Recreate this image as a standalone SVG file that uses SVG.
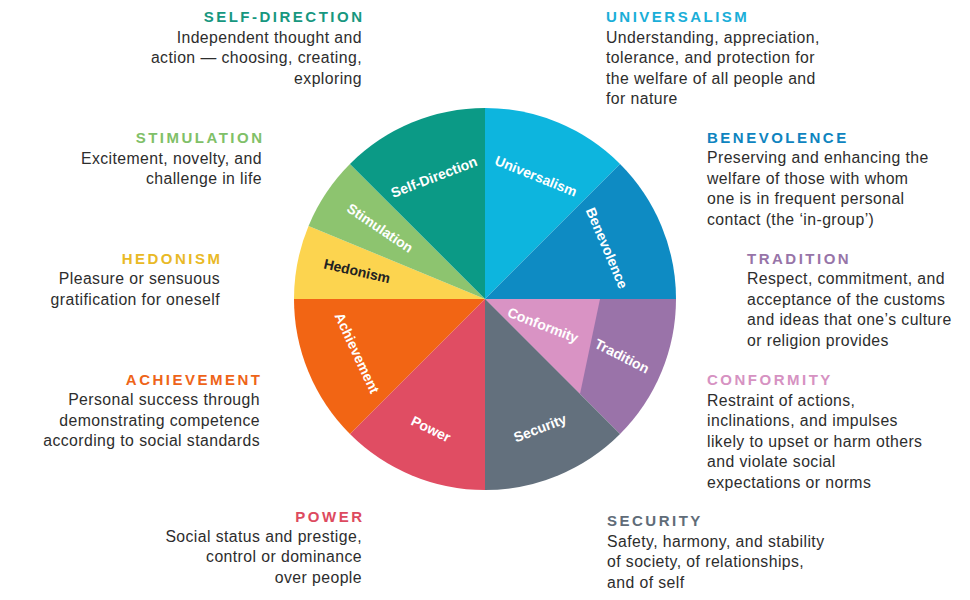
<svg xmlns="http://www.w3.org/2000/svg" width="970" height="600" viewBox="0 0 970 600">
<style>
.h{font-family:"Liberation Sans",Arial,sans-serif;font-weight:bold;font-size:15px;letter-spacing:2.5px}
.b{font-family:"Liberation Sans",Arial,sans-serif;font-size:15.8px;letter-spacing:0.42px;fill:#2d2d2d}
.w{font-family:"Liberation Sans",Arial,sans-serif;font-weight:bold;font-size:14px;fill:#ffffff;text-anchor:middle}
.e{text-anchor:end}
</style>
<rect width="970" height="600" fill="#ffffff"/>
<g id="pie">
<path id="w-universalism" d="M485,299 L485,108 A191,191 0 0 1 620.06,163.94 Z" fill="#0db5de"/>
<path id="w-benevolence" d="M485,299 L620.06,163.94 A191,191 0 0 1 676,299 Z" fill="#0e8bc3"/>
<path id="w-tradition" d="M485,299 L676,299 A191,191 0 0 1 620.06,434.06 Z" fill="#9a73a9"/>
<path id="w-conformity" d="M485,299 L600,299 L580,394 Z" fill="#d993c4"/>
<path id="w-security" d="M485,299 L620.06,434.06 A191,191 0 0 1 485,490 Z" fill="#63707d"/>
<path id="w-power" d="M485,299 L485,490 A191,191 0 0 1 349.94,434.06 Z" fill="#e04d63"/>
<path id="w-achievement" d="M485,299 L349.94,434.06 A191,191 0 0 1 294,299 Z" fill="#f26514"/>
<path id="w-hedonism" d="M485,299 L294,299 A191,191 0 0 1 308.54,225.91 Z" fill="#fcd44f"/>
<path id="w-stimulation" d="M485,299 L308.54,225.91 A191,191 0 0 1 349.94,163.94 Z" fill="#8dc46f"/>
<path id="w-selfdirection" d="M485,299 L349.94,163.94 A191,191 0 0 1 485,108 Z" fill="#0b9a86"/>
</g>
<g id="pie-labels">
<text class="w" dy="0.35em" transform="translate(434,177) rotate(-21)">Self-Direction</text>
<text class="w" dy="0.35em" transform="translate(536,176) rotate(22)">Universalism</text>
<text class="w" dy="0.35em" transform="translate(607,248) rotate(67)">Benevolence</text>
<text class="w" dy="0.35em" transform="translate(622,356) rotate(27)">Tradition</text>
<text class="w" dy="0.35em" transform="translate(543,325) rotate(21)">Conformity</text>
<text class="w" dy="0.35em" transform="translate(540,428) rotate(-21)">Security</text>
<text class="w" dy="0.35em" transform="translate(431,429) rotate(26)">Power</text>
<text class="w" dy="0.35em" transform="translate(357,353) rotate(65)">Achievement</text>
<text class="w" dy="0.35em" transform="translate(357,271) rotate(13)" style="fill:#222222">Hedonism</text>
<text class="w" dy="0.35em" transform="translate(380,228) rotate(34)">Stimulation</text>
</g>
<g id="connectors"></g>
<g id="n-selfdirection">
<text class="h e" x="364.5" y="22" fill="#17977f">SELF-DIRECTION</text>
<text class="b e" x="362"><tspan x="362" y="42.5">Independent thought and</tspan><tspan x="362" y="63">action — choosing, creating,</tspan><tspan x="362" y="83.5">exploring</tspan></text>
</g>
<g id="n-universalism">
<text class="h" x="606" y="22" fill="#1aaed8">UNIVERSALISM</text>
<text class="b"><tspan x="606" y="42.5">Understanding, appreciation,</tspan><tspan x="606" y="63">tolerance, and protection for</tspan><tspan x="606" y="83.5">the welfare of all people and</tspan><tspan x="606" y="104">for nature</tspan></text>
</g>
<g id="n-stimulation">
<text class="h e" x="264.5" y="143" fill="#80c068">STIMULATION</text>
<text class="b e"><tspan x="262" y="163.5">Excitement, novelty, and</tspan><tspan x="262" y="184">challenge in life</tspan></text>
</g>
<g id="n-benevolence">
<text class="h" x="707" y="142.5" fill="#0e84bf">BENEVOLENCE</text>
<text class="b"><tspan x="707" y="163">Preserving and enhancing the</tspan><tspan x="707" y="183.5">welfare of those with whom</tspan><tspan x="707" y="204">one is in frequent personal</tspan><tspan x="707" y="224.5">contact (the ‘in-group’)</tspan></text>
</g>
<g id="n-hedonism">
<text class="h e" x="222.5" y="263.5" fill="#e9b926">HEDONISM</text>
<text class="b e"><tspan x="220" y="284">Pleasure or sensuous</tspan><tspan x="220" y="304.5">gratification for oneself</tspan></text>
</g>
<g id="n-tradition">
<text class="h" x="747" y="263.5" fill="#9774a8">TRADITION</text>
<text class="b"><tspan x="747" y="284">Respect, commitment, and</tspan><tspan x="747" y="304.5">acceptance of the customs</tspan><tspan x="747" y="325">and ideas that one’s culture</tspan><tspan x="747" y="345.5">or religion provides</tspan></text>
</g>
<g id="n-achievement">
<text class="h e" x="262.5" y="384.5" fill="#ee6418">ACHIEVEMENT</text>
<text class="b e"><tspan x="260" y="405">Personal success through</tspan><tspan x="260" y="425.5">demonstrating competence</tspan><tspan x="260" y="446">according to social standards</tspan></text>
</g>
<g id="n-conformity">
<text class="h" x="707" y="385" fill="#d692c2">CONFORMITY</text>
<text class="b"><tspan x="707" y="405.5">Restraint of actions,</tspan><tspan x="707" y="426">inclinations, and impulses</tspan><tspan x="707" y="446.5">likely to upset or harm others</tspan><tspan x="707" y="467">and violate social</tspan><tspan x="707" y="487.5">expectations or norms</tspan></text>
</g>
<g id="n-power">
<text class="h e" x="364.5" y="521.5" fill="#dd4a60">POWER</text>
<text class="b e"><tspan x="362" y="541.5">Social status and prestige,</tspan><tspan x="362" y="562">control or dominance</tspan><tspan x="362" y="582.5">over people</tspan></text>
</g>
<g id="n-security">
<text class="h" x="607" y="526" fill="#606c78">SECURITY</text>
<text class="b"><tspan x="607" y="546.5">Safety, harmony, and stability</tspan><tspan x="607" y="567">of society, of relationships,</tspan><tspan x="607" y="587.5">and of self</tspan></text>
</g>
</svg>
